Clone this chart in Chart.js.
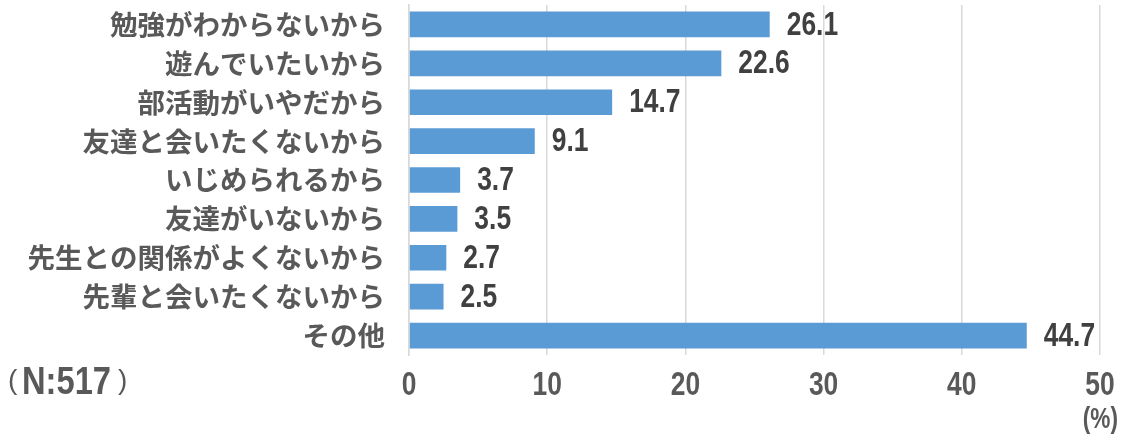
<!DOCTYPE html>
<html>
<head>
<meta charset="utf-8">
<script src="https://cdn.jsdelivr.net/npm/chart.js@4"></script>
<style>
  body { margin: 0; background: #fff; }
</style>
</head>
<body>
<canvas id="reasons" width="1124" height="436"></canvas>
<script>
const categories = ['勉強がわからないから', '遊んでいたいから', '部活動がいやだから', '友達と会いたくないから', 'いじめられるから', '友達がいないから', '先生との関係がよくないから', '先輩と会いたくないから', 'その他'];
const values = [26.1, 22.6, 14.7, 9.1, 3.7, 3.5, 2.7, 2.5, 44.7];
const xTicks = [0, 10, 20, 30, 40, 50];
const sampleNote = 'N:517';
const unitNote = '(%)';

const latin = '"Liberation Sans", Arial, sans-serif';

// condensed text: squeeze the glyphs horizontally around an anchor point
function narrowText(ctx, text, x, y, font, squeeze, align) {
    ctx.save();
    ctx.font = font;
    ctx.textAlign = align;
    ctx.textBaseline = 'middle';
    ctx.translate(x, y);
    ctx.scale(squeeze, 1);
    ctx.fillText(text, 0, 0);
    ctx.restore();
}

const labelPlugin = {
    id: 'labels',
    afterDraw(chart) {
        const ctx = chart.ctx;
        const meta = chart.getDatasetMeta(0);
        const xs = chart.scales.x;

        ctx.fillStyle = '#404040';
        meta.data.forEach((bar, i) => {
            narrowText(ctx, values[i].toFixed(1), bar.x + 17, bar.y + 1, 'bold 33px ' + latin, 0.8, 'left');
        });

        ctx.fillStyle = '#595959';
        xs.ticks.forEach(t => {
            narrowText(ctx, String(t.value), xs.getPixelForValue(t.value), 386, 'bold 33px ' + latin, 0.8, 'center');
        });

        // (N:517) with thin brackets
        narrowText(ctx, '(', 8, 381, '28px ' + latin, 1, 'left');
        narrowText(ctx, sampleNote, 22, 384, 'bold 38px ' + latin, 0.86, 'left');
        narrowText(ctx, ')', 118, 381, '28px ' + latin, 1, 'left');

        narrowText(ctx, unitNote, 1118, 420, 'bold 29px ' + latin, 0.78, 'right');
    }
};

new Chart(document.getElementById('reasons'), {
    type: 'bar',
    data: {
        labels: categories,
        datasets: [{
            data: values,
            backgroundColor: '#5B9BD5',
            borderWidth: 0,
            barPercentage: 0.66,
            categoryPercentage: 1
        }]
    },
    options: {
        indexAxis: 'y',
        responsive: false,
        animation: false,
        layout: { padding: { top: 5, right: 24, left: 0, bottom: 0 } },
        plugins: {
            legend: { display: false },
            tooltip: { enabled: false }
        },
        scales: {
            x: {
                min: 0,
                max: 50,
                afterBuildTicks: (scale) => {
                    scale.ticks = xTicks.map(v => ({ value: v }));
                },
                afterFit: (scale) => {
                    scale.height = 81;
                    scale.paddingLeft = 0;
                    scale.paddingRight = 0;
                },
                grid: { color: '#D9D9D9', lineWidth: 1.5, drawTicks: false },
                border: { display: false },
                ticks: { display: false }
            },
            y: {
                afterFit: (scale) => {
                    scale.width = 409;
                    scale.paddingTop = 0;
                    scale.paddingBottom = 0;
                },
                grid: { display: false, drawTicks: false },
                border: { color: '#D9D9D9', width: 1.5 },
                ticks: {
                    color: '#595959',
                    padding: 24,
                    font: { family: '"Noto Sans CJK JP", sans-serif', size: 27.5, weight: 'bold' }
                }
            }
        }
    },
    plugins: [labelPlugin]
});
</script>
</body>
</html>
